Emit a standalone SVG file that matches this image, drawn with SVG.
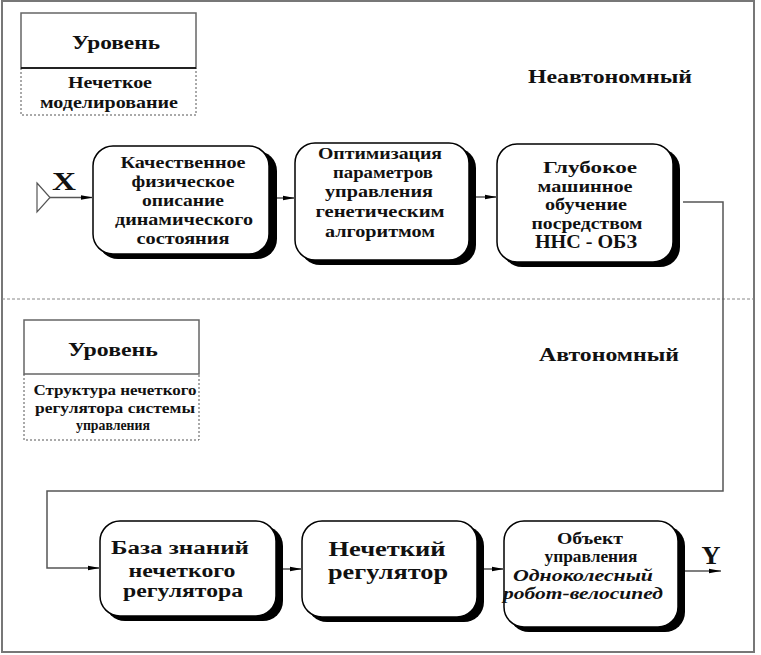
<svg xmlns="http://www.w3.org/2000/svg" width="761" height="655" viewBox="0 0 761 655">
<style>
text{font-family:"Liberation Serif","Times New Roman",serif;font-weight:bold;fill:#111;text-anchor:middle}
.frame{fill:none;stroke:#777;stroke-width:2}
.sep{fill:none;stroke:#888;stroke-width:1;stroke-dasharray:3 2}
.lvl{fill:#fff;stroke:#666;stroke-width:1.5}
.dot{fill:none;stroke:#555;stroke-width:1;stroke-dasharray:2 2}
.shadow{fill:#000}
.box{fill:#fff;stroke:#000;stroke-width:1.5}
.con{fill:none;stroke:#555;stroke-width:1.5}
.t16{font-size:16px}
.t18{font-size:18px}
.t14{font-size:14px}
.t20{font-size:20px}
.big{font-size:25px}
.it{font-style:italic}
</style>
<defs>
<marker id="arr" viewBox="0 0 12 6" refX="12" refY="3" markerWidth="12" markerHeight="6" markerUnits="userSpaceOnUse" orient="auto">
<path d="M0,0.8 L12,3 L0,5.2 Z" fill="#000"/>
</marker>
</defs>
<rect x="0" y="0" width="761" height="655" fill="#fff"/>
<g id="frame">
<rect class="frame" x="2" y="1" width="752" height="651"/>
<line class="sep" x1="2" y1="299" x2="754" y2="299"/>
</g>
<g id="level-top">
<rect class="lvl" x="21" y="13" width="175" height="55"/>
<path class="dot" d="M21,68 V115 H196 V68"/>
<line x1="21" y1="68" x2="196" y2="68" stroke="#000" stroke-width="1.5"/>
<text class="t18" x="116" y="49" textLength="88" lengthAdjust="spacingAndGlyphs">Уровень</text>
<text class="t16" x="110" y="88" textLength="84" lengthAdjust="spacingAndGlyphs">Нечеткое</text>
<text class="t16" x="109" y="108" textLength="138" lengthAdjust="spacingAndGlyphs">моделирование</text>
</g>
<g id="label-nonauto">
<text class="t18" x="610" y="83" textLength="164" lengthAdjust="spacingAndGlyphs">Неавтономный</text>
</g>
<g id="level-bottom">
<rect class="lvl" x="24" y="320" width="175" height="54"/>
<path class="dot" d="M24,374 V440 H199 V374"/>
<text class="t18" x="113" y="356" textLength="90" lengthAdjust="spacingAndGlyphs">Уровень</text>
<text class="t14" x="115" y="395" textLength="163" lengthAdjust="spacingAndGlyphs">Структура нечеткого</text>
<text class="t14" x="115" y="413" textLength="160" lengthAdjust="spacingAndGlyphs">регулятора системы</text>
<text class="t14" x="113" y="430" textLength="74" lengthAdjust="spacingAndGlyphs">управления</text>
</g>
<g id="label-auto">
<text class="t18" x="609" y="361" textLength="140" lengthAdjust="spacingAndGlyphs">Автономный</text>
</g>
<g id="input-x">
<path d="M37,183 L50,197.5 L37,212 Z" fill="#fff" stroke="#555" stroke-width="1.2"/>
<text class="big" x="64" y="190" textLength="24" lengthAdjust="spacingAndGlyphs">X</text>
</g>
<g id="node-a">
<rect class="shadow" x="98" y="151" width="179" height="108" rx="20"/>
<rect class="box" x="93" y="146" width="176" height="108" rx="20"/>
<text class="t16" x="183" y="168" textLength="125" lengthAdjust="spacingAndGlyphs">Качественное</text>
<text class="t16" x="183" y="187" textLength="103" lengthAdjust="spacingAndGlyphs">физическое</text>
<text class="t16" x="183" y="206" textLength="82" lengthAdjust="spacingAndGlyphs">описание</text>
<text class="t16" x="184" y="225" textLength="138" lengthAdjust="spacingAndGlyphs">динамического</text>
<text class="t16" x="183" y="244" textLength="93" lengthAdjust="spacingAndGlyphs">состояния</text>
</g>
<g id="node-b">
<rect class="shadow" x="300" y="148" width="176" height="117" rx="20"/>
<rect class="box" x="295" y="143" width="174" height="117" rx="20"/>
<text class="t16" x="380" y="159" textLength="124" lengthAdjust="spacingAndGlyphs">Оптимизация</text>
<text class="t16" x="383" y="178" textLength="100" lengthAdjust="spacingAndGlyphs">параметров</text>
<text class="t16" x="379" y="197" textLength="108" lengthAdjust="spacingAndGlyphs">управления</text>
<text class="t16" x="380" y="217" textLength="129" lengthAdjust="spacingAndGlyphs">генетическим</text>
<text class="t16" x="380" y="237" textLength="110" lengthAdjust="spacingAndGlyphs">алгоритмом</text>
</g>
<g id="node-c">
<rect class="shadow" x="502" y="149" width="178" height="118" rx="20"/>
<rect class="box" x="497" y="144" width="176" height="118" rx="20"/>
<text class="t16" x="590" y="173" textLength="94" lengthAdjust="spacingAndGlyphs">Глубокое</text>
<text class="t16" x="585" y="192" textLength="95" lengthAdjust="spacingAndGlyphs">машинное</text>
<text class="t16" x="586" y="210" textLength="82" lengthAdjust="spacingAndGlyphs">обучение</text>
<text class="t16" x="587" y="229" textLength="111" lengthAdjust="spacingAndGlyphs">посредством</text>
<text class="t18" x="586" y="248" textLength="102" lengthAdjust="spacingAndGlyphs">ННС - ОБЗ</text>
</g>
<g id="node-d">
<rect class="shadow" x="105" y="526" width="178" height="95" rx="20"/>
<rect class="box" x="100" y="521" width="176" height="95" rx="20"/>
<text class="t18" x="180" y="554" textLength="138" lengthAdjust="spacingAndGlyphs">База знаний</text>
<text class="t18" x="182" y="577" textLength="107" lengthAdjust="spacingAndGlyphs">нечеткого</text>
<text class="t18" x="183" y="597" textLength="120" lengthAdjust="spacingAndGlyphs">регулятора</text>
</g>
<g id="node-e">
<rect class="shadow" x="307" y="526" width="177" height="96" rx="20"/>
<rect class="box" x="302" y="521" width="175" height="96" rx="20"/>
<text class="t20" x="387" y="556" textLength="117" lengthAdjust="spacingAndGlyphs">Нечеткий</text>
<text class="t20" x="388" y="579" textLength="120" lengthAdjust="spacingAndGlyphs">регулятор</text>
</g>
<g id="node-f">
<rect class="shadow" x="509" y="526" width="176" height="106" rx="20"/>
<rect class="box" x="504" y="521" width="174" height="106" rx="20"/>
<text class="t16" x="590" y="544" textLength="66" lengthAdjust="spacingAndGlyphs">Объект</text>
<text class="t16" x="591" y="562" textLength="93" lengthAdjust="spacingAndGlyphs">управления</text>
<text class="t16 it" x="583" y="581" textLength="140" lengthAdjust="spacingAndGlyphs">Одноколесный</text>
<text class="t16 it" x="583" y="599" textLength="160" lengthAdjust="spacingAndGlyphs">робот-велосипед</text>
</g>
<g id="output-y">
<text class="big" x="711" y="564" textLength="19" lengthAdjust="spacingAndGlyphs">Y</text>
</g>
<g id="connectors">
<path class="con" d="M50,197.5 H93" marker-end="url(#arr)"/>
<path class="con" d="M277,198 H295" marker-end="url(#arr)"/>
<path class="con" d="M476,197 H497" marker-end="url(#arr)"/>
<path class="con" d="M683,202 H723 V491 H47 V568 H100" marker-end="url(#arr)"/>
<path class="con" d="M283,569 H302" marker-end="url(#arr)"/>
<path class="con" d="M484,569 H504" marker-end="url(#arr)"/>
<path class="con" d="M685,571 H721" marker-end="url(#arr)"/>
</g>
</svg>
